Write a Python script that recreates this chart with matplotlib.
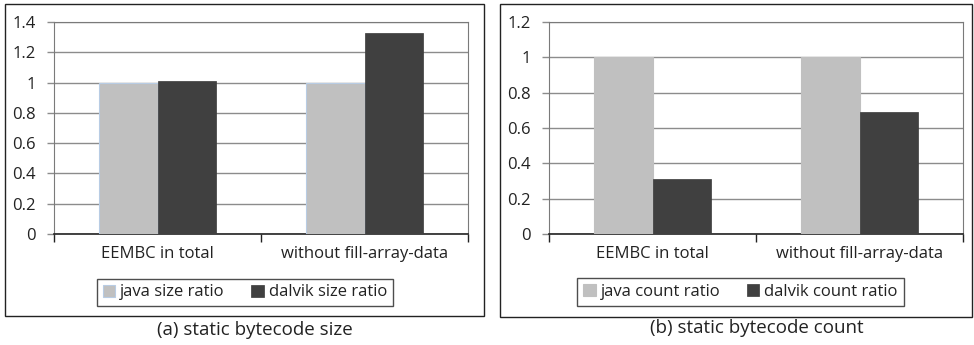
import numpy as np
import matplotlib
matplotlib.use("Agg")
import matplotlib.pyplot as plt
from matplotlib.patches import Rectangle

plt.rcParams["font.family"] = ["Open Sans", "DejaVu Sans"]

categories = ["EEMBC in total", "without fill-array-data"]
java_size = [1.0, 1.0]
dalvik_size = [1.01, 1.33]
java_count = [1.0, 1.0]
dalvik_count = [0.31, 0.69]

W, H = 974, 345
fig = plt.figure(figsize=(W / 100, H / 100), dpi=100)

JAVA = "#c0c0c0"
DALVIK = "#404040"


def px_axes(x0, y0, x1, y1):
    return fig.add_axes([x0 / W, 1 - y1 / H, (x1 - x0) / W, (y1 - y0) / H])


def panel(ax, java, dalvik, ymax, labels, java_edge):
    x = np.arange(len(categories))
    w = 0.285
    ax.bar(x - w / 2, java, w, color=JAVA, edgecolor=java_edge, linewidth=0.8,
           label=labels[0], zorder=3)
    ax.bar(x + w / 2, dalvik, w, color=DALVIK, edgecolor="#3a3a3a", linewidth=0.5,
           label=labels[1], zorder=3)
    ax.set_xlim(-0.5, len(categories) - 0.5)
    ax.set_ylim(0, ymax)
    yt = np.arange(0, ymax + 0.01, 0.2)
    ax.set_yticks(yt)
    ax.set_yticklabels(["0" if v == 0 else ("1" if abs(v - 1) < 1e-9 else f"{v:.1f}")
                        for v in yt])
    ax.yaxis.grid(True, color="#8c8c8c", linewidth=1.0, zorder=0)
    ax.set_axisbelow(True)
    ax.set_xticks([-0.5, 0.5, 1.5])
    ax.set_xticklabels([])
    ax.set_xticks(x, minor=True)
    ax.set_xticklabels(categories, minor=True)
    ax.tick_params(axis="x", which="major", length=6, width=1, color="#222222")
    ax.tick_params(axis="x", which="minor", length=0, pad=9, labelsize=12,
                   labelcolor="#222222")
    ax.tick_params(axis="y", length=5, width=1, color="#8c8c8c", labelsize=12,
                   labelcolor="#222222", pad=8)
    for s in ["top", "right", "left"]:
        ax.spines[s].set_color("#7a7a7a")
    ax.spines["bottom"].set_color("#222222")
    ax.spines["bottom"].set_linewidth(1.2)
    return ax


ax1 = px_axes(54, 22, 468, 234)
panel(ax1, java_size, dalvik_size, 1.4, ["java size ratio", "dalvik size ratio"], "#b8cce4")
ax2 = px_axes(549, 22, 963, 234)
panel(ax2, java_count, dalvik_count, 1.2, ["java count ratio", "dalvik count ratio"], JAVA)

for (x0, y0, x1, y1) in [(5, 4, 484, 316), (500, 4, 972, 317)]:
    fig.patches.append(Rectangle((x0 / W, 1 - y1 / H), (x1 - x0) / W, (y1 - y0) / H,
                                 transform=fig.transFigure, fill=False,
                                 edgecolor="#222222", linewidth=1.0))

for ax, cx, cy in [(ax1, 245, 292.5), (ax2, 740.5, 292)]:
    leg = ax.legend(loc="center", bbox_to_anchor=(cx / W, 1 - cy / H),
                    bbox_transform=fig.transFigure, ncol=2, frameon=True,
                    fancybox=False, edgecolor="#222222", fontsize=12,
                    handlelength=0.75, handleheight=0.75, handletextpad=0.3,
                    columnspacing=1.6, borderpad=0.35, borderaxespad=0)
    leg.get_frame().set_linewidth(1.0)
    for t in leg.get_texts():
        t.set_color("#222222")

fig.text(255 / W, 1 - 330 / H, "(a) static bytecode size", ha="center", va="center",
         fontsize=13.5, color="#222222")
fig.text(757 / W, 1 - 328 / H, "(b) static bytecode count", ha="center", va="center",
         fontsize=13.5, color="#222222")

fig.savefig("out.png", dpi=100)
